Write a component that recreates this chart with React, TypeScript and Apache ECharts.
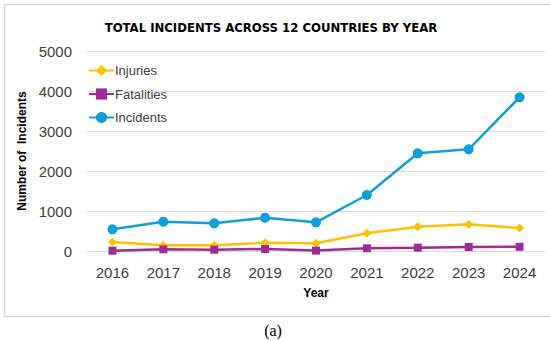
import React, { useEffect, useRef } from "react";
import * as echarts from "echarts";

const years = ["2016", "2017", "2018", "2019", "2020", "2021", "2022", "2023", "2024"];
const injuries = [225, 142, 142, 208, 195, 442, 608, 667, 575];
const fatalities = [8, 42, 33, 50, 10, 67, 83, 100, 105];
const incidents = [542, 733, 692, 833, 717, 1400, 2442, 2542, 3842];
const yTicks = { min: 0, max: 5000, interval: 1000 };

export default function App() {
  const ref = useRef<HTMLDivElement>(null);
  useEffect(() => {
    if (!ref.current) return;
    const chart = echarts.init(ref.current, null, { renderer: "svg" });
    const font = "Liberation Sans, Arial, sans-serif";
    chart.setOption({
      animation: false,
      backgroundColor: "#ffffff",
      title: {
        text: "TOTAL INCIDENTS ACROSS 12 COUNTRIES BY YEAR",
        left: 266,
        top: 16,
        textAlign: "center",
        textStyle: { fontFamily: "DejaVu Sans Condensed, sans-serif", fontWeight: "bold", fontSize: 13, color: "#000000" },
      },
      legend: {
        orient: "vertical",
        left: 83,
        top: 59,
        itemWidth: 25,
        itemHeight: 14,
        itemGap: 10.5,
        textStyle: { fontFamily: font, fontSize: 13, color: "#404040", padding: [0, 0, 0, -4] },
        data: ["Injuries", "Fatalities", "Incidents"],
      },
      grid: { left: 87, right: 5, top: 51, bottom: 89 },
      xAxis: {
        type: "category",
        data: years,
        boundaryGap: true,
        name: "Year",
        nameLocation: "middle",
        nameGap: 36,
        nameTextStyle: { fontFamily: font, fontWeight: "bold", fontSize: 12, color: "#000000" },
        axisLine: { show: false },
        axisTick: { show: false },
        axisLabel: { fontFamily: font, fontSize: 15, color: "#404040", margin: 14 },
      },
      yAxis: {
        type: "value",
        min: yTicks.min,
        max: yTicks.max,
        interval: yTicks.interval,
        name: "Number of  Incidents",
        nameLocation: "middle",
        nameGap: 42,
        nameTextStyle: { fontFamily: font, fontWeight: "bold", fontSize: 12, color: "#000000" },
        axisLine: { show: false },
        axisTick: { show: false },
        axisLabel: { fontFamily: font, fontSize: 15, color: "#404040", margin: 15, formatter: (v: number) => String(v) },
        splitLine: { lineStyle: { color: "#d9d9d9", width: 1 } },
      },
      series: [
        {
          name: "Injuries",
          type: "line",
          data: injuries,
          color: "#FFC000",
          symbol: "diamond",
          symbolSize: 9,
          lineStyle: { width: 2.5 },
        },
        {
          name: "Fatalities",
          type: "line",
          data: fatalities,
          color: "#A02B93",
          symbol: "rect",
          symbolSize: 8,
          lineStyle: { width: 2.5 },
        },
        {
          name: "Incidents",
          type: "line",
          data: incidents,
          color: "#0F9ED5",
          symbol: "circle",
          symbolSize: 10,
          lineStyle: { width: 2.5 },
        },
      ],
      graphic: [
        {
          type: "rect",
          shape: { x: 4.5, y: 4.5, width: 550, height: 312 },
          style: { fill: "none", stroke: "#d9d9d9", lineWidth: 1.5 },
          silent: true,
        },
        {
          type: "text",
          x: 273,
          y: 330,
          style: { text: "(a)", font: "16px 'Liberation Serif', serif", fill: "#000000", textAlign: "center", textVerticalAlign: "middle" },
        },
      ],
    });
    return () => chart.dispose();
  }, []);
  return <div ref={ref} style={{ position: "absolute", left: 0, top: 0, width: 550, height: 340 }} />;
}
